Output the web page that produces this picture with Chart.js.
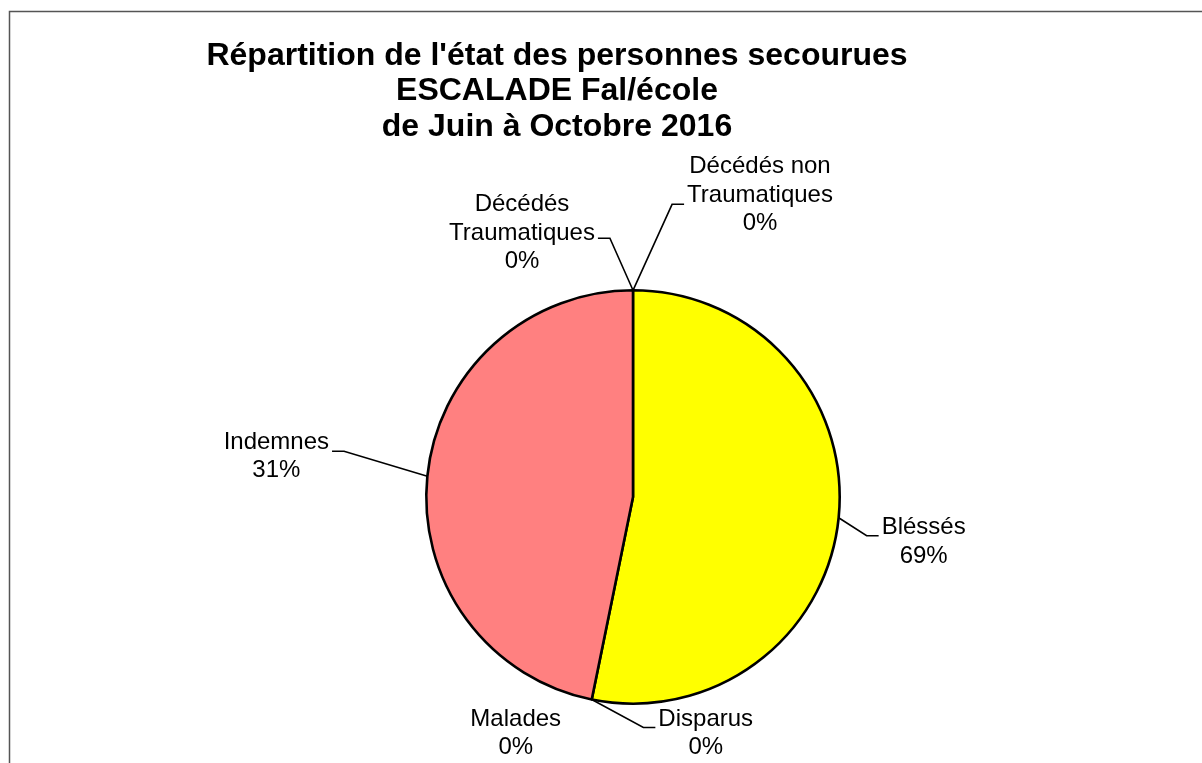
<!DOCTYPE html>
<html>
<head>
<meta charset="utf-8">
<script src="https://cdn.jsdelivr.net/npm/chart.js@4"></script>
<style>
  html, body { margin: 0; padding: 0; background: #fff; }
  #wrap { position: relative; width: 1202px; height: 763px; }
</style>
</head>
<body>
<div id="wrap"><canvas id="chartEtat" width="1202" height="763"></canvas></div>
<script>
const TITLE_LINES = [
  "Répartition de l'état des personnes secourues",
  "ESCALADE Fal/école",
  "de Juin à Octobre 2016",
];
const CATEGORY_LINES = [
  ["Bléssés"],
  ["Disparus"],
  ["Malades"],
  ["Indemnes"],
  ["Décédés", "Traumatiques"],
  ["Décédés non", "Traumatiques"],
];
// slice sizes as drawn in the picture
const SLICE_SHARES = [53.2, 0, 0, 46.8, 0, 0];
// percentages as printed on the labels
const PERCENT_LABELS = ["69%", "0%", "0%", "31%", "0%", "0%"];
const SLICE_COLORS = ["#FFFF00", "#3366FF", "#993366", "#FF8080", "#00FFFF", "#800080"];

const LABEL_FONT = '24px "Liberation Sans", Arial, sans-serif';
const TITLE_FONT = 'bold 32px "Liberation Sans", Arial, sans-serif';

// label placement relative to the slice anchor, Excel style
const LABEL_LAYOUT = [
  { dx: 85, dy: 24, leaderDy: -6 },
  { dx: 114, dy: 34, leaderDy: -6 },
  { dx: -76, dy: 34, leaderDy: null },
  { dx: -151, dy: -20, leaderDy: -5 },
  { dx: -111, dy: -57, leaderDy: 5 },
  { dx: 127, dy: -95, leaderDy: 9 },
];

const framePlugin = {
  id: "frame",
  beforeDraw(chart) {
    const ctx = chart.ctx;
    ctx.save();
    ctx.strokeStyle = "#555555";
    ctx.lineWidth = 1.5;
    ctx.strokeRect(9.5, 11.5, 1400, 900);
    ctx.restore();
  },
};

const titlePlugin = {
  id: "excelTitle",
  afterDraw(chart) {
    const ctx = chart.ctx;
    ctx.save();
    ctx.font = TITLE_FONT;
    ctx.fillStyle = "#000";
    ctx.textAlign = "center";
    ctx.textBaseline = "middle";
    TITLE_LINES.forEach((line, i) => {
      ctx.fillText(line, 557, 56 + i * 35.5);
    });
    ctx.restore();
  },
};

const labelPlugin = {
  id: "excelLabels",
  afterDatasetsDraw(chart) {
    const ctx = chart.ctx;
    const meta = chart.getDatasetMeta(0);
    const lineH = 28.5;
    ctx.save();
    ctx.font = LABEL_FONT;
    ctx.fillStyle = "#000";
    ctx.strokeStyle = "#000";
    ctx.lineWidth = 1.6;
    ctx.textAlign = "center";
    ctx.textBaseline = "middle";
    meta.data.forEach((arc, i) => {
      const p = arc.getProps(["x", "y", "startAngle", "endAngle", "outerRadius"], true);
      const mid = (p.startAngle + p.endAngle) / 2;
      const ax = p.x + Math.cos(mid) * p.outerRadius;
      const ay = p.y + Math.sin(mid) * p.outerRadius;
      const lay = LABEL_LAYOUT[i];
      const lines = CATEGORY_LINES[i].concat([PERCENT_LABELS[i]]);
      const cx = ax + lay.dx;
      const cy = ay + lay.dy;
      const top = cy - ((lines.length - 1) * lineH) / 2;
      lines.forEach((t, k) => ctx.fillText(t, cx, top + k * lineH));
      if (lay.leaderDy !== null) {
        const maxW = Math.max(...lines.map((t) => ctx.measureText(t).width));
        const right = cx > ax;
        const edge = right ? cx - maxW / 2 - 3 : cx + maxW / 2 + 3;
        const ly = cy + lay.leaderDy;
        const elbow = right ? edge - 12 : edge + 12;
        ctx.beginPath();
        ctx.moveTo(ax, ay);
        ctx.lineTo(elbow, ly);
        ctx.lineTo(edge, ly);
        ctx.stroke();
      }
    });
    ctx.restore();
  },
};

new Chart(document.getElementById("chartEtat"), {
  type: "pie",
  data: {
    labels: CATEGORY_LINES.map((l) => l.join(" ")),
    datasets: [
      {
        data: SLICE_SHARES,
        backgroundColor: SLICE_COLORS,
        borderColor: "#000000",
        borderWidth: 2.6,
        hoverOffset: 0,
      },
    ],
  },
  options: {
    responsive: false,
    animation: false,
    layout: { padding: { left: 425, right: 361, top: 289, bottom: 58 } },
    plugins: {
      legend: { display: false },
      tooltip: { enabled: false },
      title: { display: false },
    },
  },
  plugins: [framePlugin, titlePlugin, labelPlugin],
});
</script>
</body>
</html>
